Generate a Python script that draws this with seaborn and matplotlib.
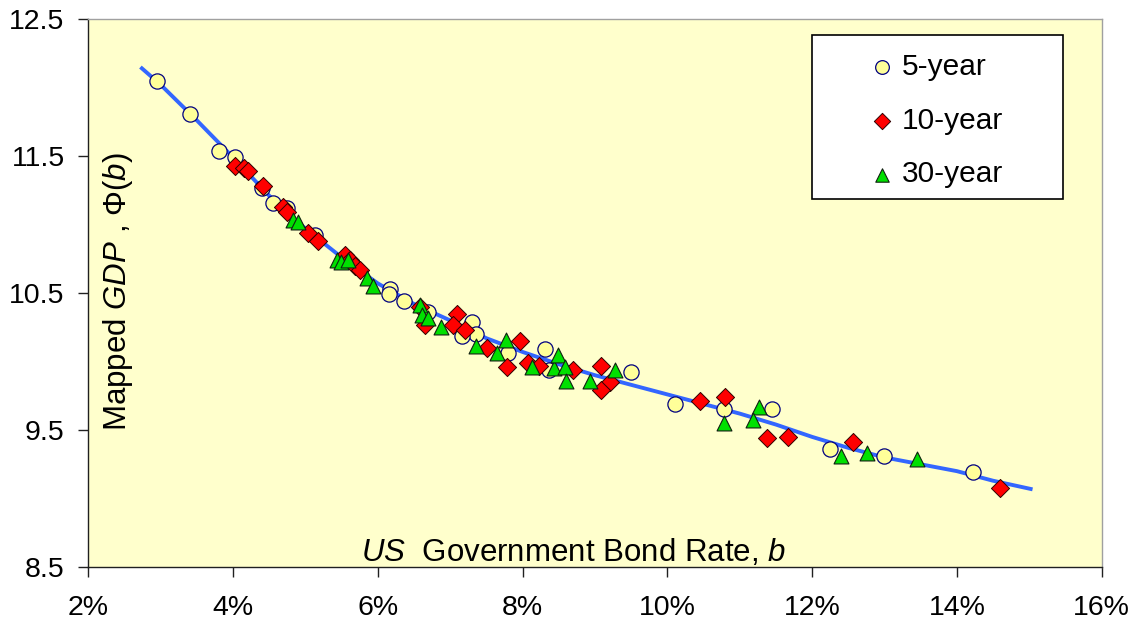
import numpy as np
import pandas as pd
import matplotlib
matplotlib.use('Agg')
import matplotlib.pyplot as plt
from matplotlib.patches import Rectangle
import seaborn as sns

plt.rcParams['font.family'] = ['Liberation Sans', 'DejaVu Sans']
plt.rcParams['mathtext.fontset'] = 'custom'
plt.rcParams['mathtext.rm'] = 'Liberation Sans'
plt.rcParams['mathtext.it'] = 'Liberation Sans:italic'

# 5-year bonds
rate_5y = [2.95, 3.41, 3.81, 4.03, 4.40, 4.55, 4.74, 5.13, 6.17, 6.15, 6.36, 6.70, 7.30,
           7.36, 7.16, 7.80, 8.31, 8.36, 9.50, 10.11, 10.78, 11.44, 12.25, 12.99, 14.23]
gdp_5y = [12.05, 11.81, 11.54, 11.49, 11.27, 11.16, 11.12, 10.92, 10.53, 10.49, 10.44, 10.36, 10.29,
          10.20, 10.19, 10.06, 10.09, 9.94, 9.92, 9.69, 9.65, 9.65, 9.36, 9.31, 9.19]

# 10-year bonds
rate_10y = [4.03, 4.15, 4.21, 4.41, 4.69, 4.75, 5.04, 5.17, 5.55, 5.62, 5.69, 5.76, 6.58, 6.65,
            7.09, 7.04, 7.21, 7.51, 7.78, 7.96, 8.08, 8.22, 8.69, 9.09, 9.21, 9.09, 10.45, 10.80,
            11.38, 11.67, 12.56, 14.59]
gdp_10y = [11.43, 11.41, 11.39, 11.28, 11.13, 11.09, 10.94, 10.88, 10.78, 10.74, 10.70, 10.67, 10.40, 10.27,
           10.35, 10.27, 10.23, 10.10, 9.96, 10.15, 9.99, 9.97, 9.94, 9.97, 9.85, 9.79, 9.71, 9.74,
           9.44, 9.45, 9.41, 9.08]

# 30-year bonds
rate_30y = [4.83, 4.90, 5.43, 5.49, 5.59, 5.85, 5.94, 6.58, 6.61, 6.70, 6.87, 7.36, 7.77, 7.65,
            8.13, 8.43, 8.49, 8.59, 8.60, 8.93, 9.28, 10.78, 11.26, 11.18, 12.40, 12.76, 13.45]
gdp_30y = [11.03, 11.02, 10.74, 10.73, 10.74, 10.61, 10.55, 10.41, 10.34, 10.32, 10.25, 10.11, 10.16, 10.06,
           9.96, 9.95, 10.05, 9.96, 9.86, 9.86, 9.94, 9.55, 9.67, 9.57, 9.31, 9.33, 9.29]

# fitted curve
curve_rate = [2.74, 3.0, 3.5, 4.0, 4.5, 5.0, 5.5, 6.0, 6.5, 7.0, 7.5, 8.0, 8.5, 9.0, 9.5,
              10.0, 10.5, 11.0, 11.5, 12.0, 12.5, 13.0, 13.5, 14.0, 14.5, 15.02]
curve_gdp = [12.14, 12.02, 11.76, 11.49, 11.21, 10.97, 10.76, 10.57, 10.42, 10.30, 10.17, 10.07, 9.98, 9.90, 9.83,
             9.76, 9.69, 9.62, 9.54, 9.45, 9.37, 9.30, 9.25, 9.20, 9.13, 9.07]

series_names = ['5-year', '10-year', '30-year']

x_ticks = [2, 4, 6, 8, 10, 12, 14, 16]
y_ticks = [8.5, 9.5, 10.5, 11.5, 12.5]

df = pd.concat([
    pd.DataFrame({'rate': rate_5y, 'gdp': gdp_5y, 'bond': series_names[0]}),
    pd.DataFrame({'rate': rate_10y, 'gdp': gdp_10y, 'bond': series_names[1]}),
    pd.DataFrame({'rate': rate_30y, 'gdp': gdp_30y, 'bond': series_names[2]}),
])
curve = pd.DataFrame({'rate': curve_rate, 'gdp': curve_gdp})

fig = plt.figure(figsize=(11.34, 6.24), dpi=100)
ax = fig.add_axes([0.0779, 0.0913, 0.8935, 0.8782])
ax.set_facecolor('#FFFFCC')

sns.lineplot(data=curve, x='rate', y='gdp', color='#3366FF', linewidth=2.8, sort=False, ax=ax, zorder=2)

styles = {
    '5-year': dict(marker='o', s=120, color='#FFFF99', edgecolor='#000080', linewidth=0.9),
    '10-year': dict(marker='D', s=85, color='#FF0000', edgecolor='#300000', linewidth=0.7),
    '30-year': dict(marker='^', s=115, color='#00E000', edgecolor='#102010', linewidth=0.8),
}
for name in series_names:
    sub = df[df['bond'] == name]
    sns.scatterplot(data=sub, x='rate', y='gdp', label=name, ax=ax, zorder=3, **styles[name])

ax.set_xlim(2, 16)
ax.set_ylim(8.5, 12.5)
ax.set_xticks(x_ticks)
ax.set_xticklabels([f'{t}%' for t in x_ticks])
ax.set_yticks(y_ticks)
ax.set_yticklabels([f'{t:.1f}' for t in y_ticks])
ax.tick_params(axis='both', labelsize=20.5, length=7, width=1, color='#202020', direction='out')
ax.tick_params(axis='x', pad=13)
ax.tick_params(axis='y', pad=10)

for side in ['left', 'bottom']:
    ax.spines[side].set_color('#202020')
    ax.spines[side].set_linewidth(1.0)
for side in ['top', 'right']:
    ax.spines[side].set_color('#A0A0A0')
    ax.spines[side].set_linewidth(1.0)

ax.set_xlabel(r'$\mathit{US}$  Government Bond Rate, $\mathit{b}$', fontsize=22.5, va='baseline')
ax.xaxis.set_label_coords(0.479, 0.011)
ax.set_ylabel(r'Mapped $\mathit{GDP}$ , Φ($\mathit{b}$)', fontsize=22.5, va='center')
ax.yaxis.set_label_coords(0.0293, 0.502)

# legend box
ax.add_patch(Rectangle((0.7147, 0.6715), 0.2468, 0.2993, transform=ax.transAxes,
                       facecolor='white', edgecolor='black', linewidth=1.2, zorder=4))
ax.legend(loc='upper left', bbox_to_anchor=(0.769, 0.938), frameon=False, fontsize=21.5,
          borderpad=0, borderaxespad=0, handlelength=1.0, handletextpad=0.15,
          labelspacing=0.86, markerscale=0.9)

fig.savefig('out.png', dpi=100)
